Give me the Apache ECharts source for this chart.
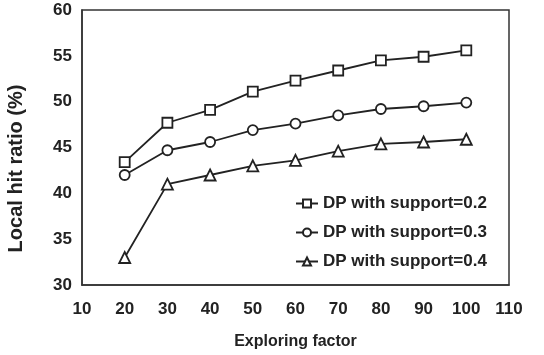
<!DOCTYPE html>
<html><head><meta charset="utf-8">
<script src="https://cdn.jsdelivr.net/npm/echarts@6/dist/echarts.min.js"></script>
<style>html,body{margin:0;padding:0;background:#fff}#c{width:544px;height:355px}</style>
</head><body><div id="c"></div>
<script>
var xValues = [20, 30, 40, 50, 60, 70, 80, 90, 100];
var support02 = [43.4, 47.7, 49.1, 51.1, 52.3, 53.4, 54.5, 54.9, 55.6];
var support03 = [42.0, 44.7, 45.6, 46.9, 47.6, 48.5, 49.2, 49.5, 49.9];
var support04 = [33.0, 41.0, 42.0, 43.0, 43.6, 44.6, 45.4, 45.6, 45.9];
var seriesNames = ['DP with support=0.2', 'DP with support=0.3', 'DP with support=0.4'];
var symbols = ['rect', 'circle', 'triangle'];

function pairs(vals){ return xValues.map(function(x,i){ return [x, vals[i]]; }); }
var allVals = [support02, support03, support04];
var font = 'Liberation Sans, Arial, sans-serif';
var chart = echarts.init(document.getElementById('c'));
chart.setOption({
  animation: false,
  grid: {left: 82, right: 35, top: 10, bottom: 70, outerBoundsMode: 'none', containLabel: false,
         show: true, borderColor: '#333', borderWidth: 1.5, backgroundColor: 'transparent'},
  xAxis: {
    type: 'value', min: 10, max: 110, interval: 10,
    name: 'Exploring factor', nameLocation: 'middle', nameGap: 49,
    nameTextStyle: {fontFamily: font, fontWeight: 'bold', fontSize: 16, color: '#222'},
    axisLine: {show: true, lineStyle: {color: '#333', width: 1.5}},
    axisTick: {show: false}, splitLine: {show: false},
    axisLabel: {fontFamily: font, fontWeight: 'bold', fontSize: 17, color: '#222', margin: 16}
  },
  yAxis: {
    type: 'value', min: 30, max: 60, interval: 5,
    name: 'Local hit ratio (%)', nameLocation: 'middle', nameGap: 56, nameRotate: 90,
    nameTextStyle: {fontFamily: font, fontWeight: 'bold', fontSize: 20, color: '#222', padding: [0, 42, 0, 0]},
    axisLine: {show: true, lineStyle: {color: '#333', width: 1.5}},
    axisTick: {show: false}, splitLine: {show: false},
    axisLabel: {fontFamily: font, fontWeight: 'bold', fontSize: 17, color: '#222', margin: 10}
  },
  legend: {
    orient: 'vertical', left: 290, top: 190, itemGap: 12, itemWidth: 22, itemHeight: 10,
    textStyle: {fontFamily: font, fontWeight: 'bold', fontSize: 17, color: '#222'},
    data: seriesNames
  },
  series: allVals.map(function(v, i){
    return {
      name: seriesNames[i], type: 'line', data: pairs(v),
      symbol: symbols[i], symbolSize: i === 2 ? 11 : 10, showSymbol: true,
      lineStyle: {color: '#222', width: 1.8},
      itemStyle: {color: '#fff', borderColor: '#222', borderWidth: 1.8}
    };
  })
});
</script></body></html>
